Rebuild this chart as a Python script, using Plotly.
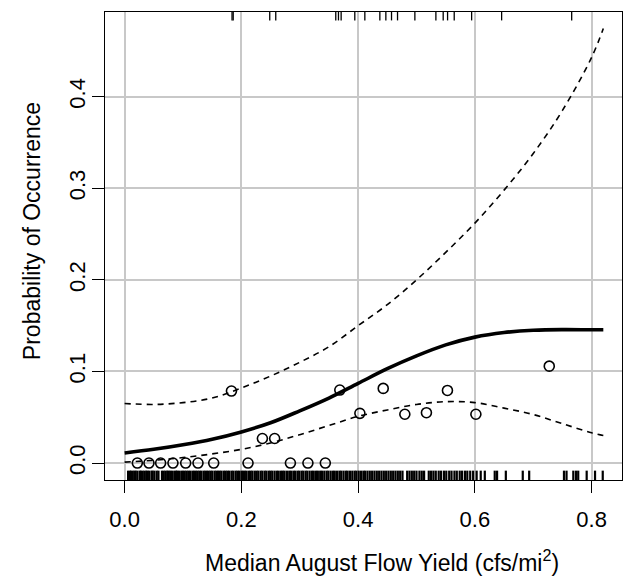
import plotly.graph_objects as go

# ---- data ----
curve_x = [0.00, 0.05, 0.10, 0.15, 0.20, 0.25, 0.30, 0.35, 0.40, 0.45, 0.50,
           0.55, 0.60, 0.65, 0.70, 0.75, 0.80, 0.82]
fit_y = [0.011, 0.015, 0.020, 0.026, 0.034, 0.044, 0.057, 0.071, 0.087, 0.103,
         0.117, 0.129, 0.1375, 0.1425, 0.145, 0.1457, 0.1455, 0.1455]
upper_y = [0.065, 0.064, 0.066, 0.071, 0.082, 0.095, 0.110, 0.127, 0.150, 0.173,
           0.200, 0.230, 0.262, 0.298, 0.338, 0.385, 0.443, 0.4745]
lower_y = [0.001, 0.003, 0.006, 0.010, 0.015, 0.022, 0.031, 0.041, 0.051, 0.058,
           0.064, 0.067, 0.066, 0.060, 0.053, 0.043, 0.033, 0.030]

obs_x = [0.0218, 0.0417, 0.0617, 0.0828, 0.1046, 0.1257, 0.1526, 0.183, 0.2114,
         0.236, 0.257, 0.284, 0.314, 0.3438, 0.3686, 0.403, 0.443, 0.480, 0.517,
         0.553, 0.6017, 0.7274]
obs_y = [0.0, 0.0, 0.0, 0.0, 0.0, 0.0, 0.0, 0.0786, 0.0, 0.0268, 0.0268, 0.0,
         0.0, 0.0, 0.0797, 0.0543, 0.0815, 0.0533, 0.055, 0.0793, 0.0533, 0.1058]

rug_present = [0.184, 0.186, 0.2486, 0.2589, 0.3617, 0.3663, 0.3709, 0.3943,
               0.4115, 0.4372, 0.4475, 0.4572, 0.4675, 0.4972, 0.5332, 0.5457,
               0.5532, 0.5646, 0.5944, 0.6458, 0.7658]
rug_absent = [0.006, 0.009, 0.011, 0.014, 0.017, 0.019, 0.022, 0.026, 0.028, 0.031,
              0.034, 0.037, 0.039, 0.042, 0.046, 0.048, 0.051, 0.055, 0.058, 0.064,
              0.067, 0.070, 0.073, 0.075, 0.078, 0.081, 0.085, 0.088, 0.090, 0.093,
              0.097, 0.100, 0.103, 0.106, 0.109, 0.112, 0.116, 0.119, 0.122, 0.125,
              0.128, 0.131, 0.135, 0.138, 0.141, 0.144, 0.147, 0.150, 0.154, 0.157,
              0.160, 0.163, 0.166, 0.170, 0.173, 0.176, 0.179, 0.183, 0.186, 0.190,
              0.193, 0.196, 0.200, 0.203, 0.206, 0.209, 0.213, 0.216, 0.219, 0.223,
              0.226, 0.229, 0.233, 0.236, 0.240, 0.243, 0.247, 0.250, 0.253, 0.257,
              0.261, 0.264, 0.268, 0.271, 0.274, 0.278, 0.282, 0.285, 0.289, 0.292,
              0.296, 0.299, 0.303, 0.306, 0.310, 0.313, 0.317, 0.321, 0.324, 0.328,
              0.331, 0.335, 0.338, 0.342, 0.346, 0.349, 0.353, 0.357, 0.360, 0.364,
              0.368, 0.371, 0.375, 0.379, 0.382, 0.386, 0.390, 0.394, 0.397, 0.401,
              0.405, 0.409, 0.412, 0.416, 0.420, 0.424, 0.428, 0.432, 0.436, 0.440,
              0.444, 0.448, 0.452, 0.456, 0.460, 0.464, 0.468, 0.472, 0.476, 0.484,
              0.488, 0.492, 0.496, 0.500, 0.505, 0.509, 0.513, 0.521, 0.525, 0.529,
              0.533, 0.538, 0.542, 0.547, 0.551, 0.556, 0.560, 0.565, 0.569, 0.574,
              0.578, 0.583, 0.587, 0.592, 0.597, 0.603, 0.610, 0.617, 0.634, 0.638,
              0.653, 0.682, 0.693, 0.7526, 0.757, 0.7686, 0.7732, 0.777, 0.7915,
              0.8058, 0.819]

x_ticks = [0.0, 0.2, 0.4, 0.6, 0.8]
x_tick_labels = ["0.0", "0.2", "0.4", "0.6", "0.8"]
y_ticks = [0.0, 0.1, 0.2, 0.3, 0.4]
y_tick_labels = ["0.0", "0.1", "0.2", "0.3", "0.4"]

FONT = "Liberation Sans, Arial, Helvetica, sans-serif"

fig = go.Figure()

def rug_xy(vals, y0, y1):
    xs, ys = [], []
    for v in vals:
        xs += [v, v, None]
        ys += [y0, y1, None]
    return xs, ys

bx, by = rug_xy(rug_absent, 0.0, 0.02)
tx, ty = rug_xy(rug_present, 1.0, 0.982)
fig.add_trace(go.Scatter(x=bx, y=by, mode="lines", yaxis="y2",
                         line=dict(color="black", width=2.2), hoverinfo="skip"))
fig.add_trace(go.Scatter(x=tx, y=ty, mode="lines", yaxis="y2",
                         line=dict(color="black", width=1.3), hoverinfo="skip"))

fig.add_trace(go.Scatter(x=curve_x, y=upper_y, mode="lines",
                         line=dict(color="black", width=1.6, dash="6px,5px",
                                   shape="spline", smoothing=1.0)))
fig.add_trace(go.Scatter(x=curve_x, y=lower_y, mode="lines",
                         line=dict(color="black", width=1.6, dash="6px,5px",
                                   shape="spline", smoothing=1.0)))
fig.add_trace(go.Scatter(x=curve_x, y=fit_y, mode="lines",
                         line=dict(color="black", width=3.6,
                                   shape="spline", smoothing=1.0)))
fig.add_trace(go.Scatter(x=obs_x, y=obs_y, mode="markers",
                         marker=dict(symbol="circle-open", size=10,
                                     color="black", line=dict(width=1.6))))

axis_common = dict(
    showline=True, linecolor="black", linewidth=1.3, mirror=True,
    showgrid=True, gridcolor="#c8c8c8", gridwidth=1.5,
    zeroline=False, ticks="outside", ticklen=12, tickwidth=1.3,
    tickcolor="black",
    tickfont=dict(family=FONT, size=22, color="black"),
)

fig.update_layout(
    width=623, height=577,
    margin=dict(l=105, r=1, t=12, b=97),
    paper_bgcolor="white", plot_bgcolor="white",
    showlegend=False,
    xaxis=dict(range=[-0.0336, 0.852], tickvals=x_ticks, ticktext=x_tick_labels,
               ticklabelstandoff=7, **axis_common),
    yaxis=dict(range=[-0.0185, 0.4925], tickvals=y_ticks, ticktext=y_tick_labels,
               tickangle=-90, ticklabelstandoff=-2, **axis_common),
    yaxis2=dict(range=[0, 1], overlaying="y", visible=False, fixedrange=True),
    annotations=[
        dict(text="Median August Flow Yield (cfs/mi<sup>2</sup>)",
             xref="paper", yref="paper", x=0.536, y=-0.173,
             xanchor="center", yanchor="middle", showarrow=False,
             font=dict(family=FONT, size=23, color="black")),
        dict(text="Probability of Occurrence", textangle=-90,
             xref="paper", yref="paper", x=-0.141, y=0.532,
             xanchor="center", yanchor="middle", showarrow=False,
             font=dict(family=FONT, size=23, color="black")),
    ],
)

fig.write_html("out.html")
